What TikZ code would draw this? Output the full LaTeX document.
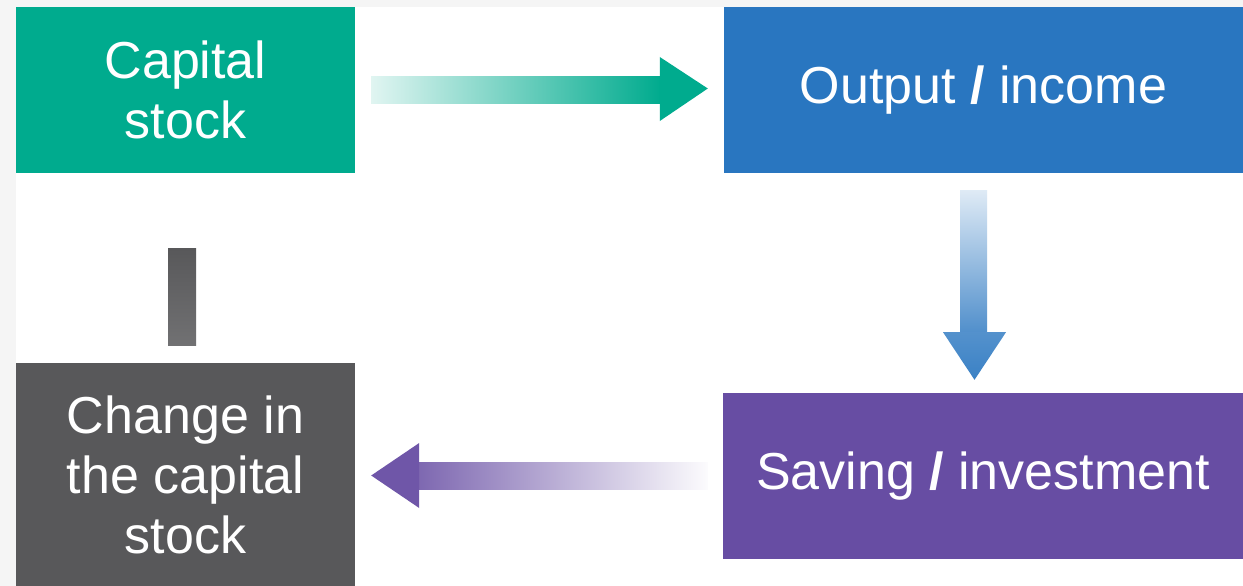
\documentclass[tikz,border=0pt]{standalone}
\usepackage{fontspec}
\setmainfont{Liberation Sans}
\usetikzlibrary{calc}

\definecolor{capteal}{RGB}{0,171,142}
\definecolor{outblue}{RGB}{41,118,192}
\definecolor{savpurple}{RGB}{103,77,163}
\definecolor{chggray}{RGB}{88,88,90}
\definecolor{paper}{RGB}{245,245,245}

\begin{document}
\begin{tikzpicture}[x=1pt, y=-1pt,
    box/.style={rectangle, inner sep=0pt, text=white, align=center,
      font=\fontsize{52}{60}\selectfont},
  ]
  \fill[white] (0, 0) rectangle (1243, 586) ;
  \fill[paper] (0, 0) rectangle (16, 586) ;
  \fill[paper] (0, 0) rectangle (1243, 7) ;
  \useasboundingbox (0, 0) rectangle (1243, 586) ;

  \node[box, fill=capteal, minimum width=339, minimum height=166] (cap)
    at (185.5, 90) {Capital\\stock} ;
  \node[box, fill=outblue, minimum width=519, minimum height=166] (out)
    at (983.5, 90) {Output \textbf{/} income} ;
  \node[box, fill=savpurple, minimum width=520, minimum height=166] (sav)
    at (983, 476) {Saving \textbf{/} investment} ;
  \node[box, fill=chggray, minimum width=339, minimum height=223] (chg)
    at (185.5, 474.5) {Change in\\the capital\\stock} ;

  \shade[left color=capteal!12, right color=capteal]
    ($(cap.east)+(16, -13.5)$) rectangle ($(out.west)+(-63, 13)$) ;
  \fill[capteal] ($(out.west)+(-64, -33)$) -- ($(out.west)+(-16, -1.5)$)
    -- ($(out.west)+(-64, 31)$) -- cycle ;

  \shade[top color=outblue!15, bottom color=outblue!82]
    ($(out.south)+(-23.5, 17)$) rectangle ($(out.south)+(3.5, 160)$) ;
  \shade[top color=outblue!80, bottom color=outblue!92]
    ($(out.south)+(-40.5, 159)$) -- ($(out.south)+(22.5, 159)$)
    -- ($(sav.north)+(-8.5, -13)$) -- cycle ;

  \shade[left color=savpurple!85, right color=savpurple!2]
    ($(chg.east)+(63, -12.5)$) rectangle ($(sav.west)+(-15, 13)$) ;
  \fill[savpurple!95] ($(chg.east)+(64, -31.5)$) -- ($(chg.east)+(16, 1)$)
    -- ($(chg.east)+(64, 33.5)$) -- cycle ;

  \shade[top color=chggray, bottom color=chggray!85]
    ($(cap.south)+(-17.5, 75)$) rectangle ($(chg.north)+(10.5, -17)$) ;
\end{tikzpicture}
\end{document}
